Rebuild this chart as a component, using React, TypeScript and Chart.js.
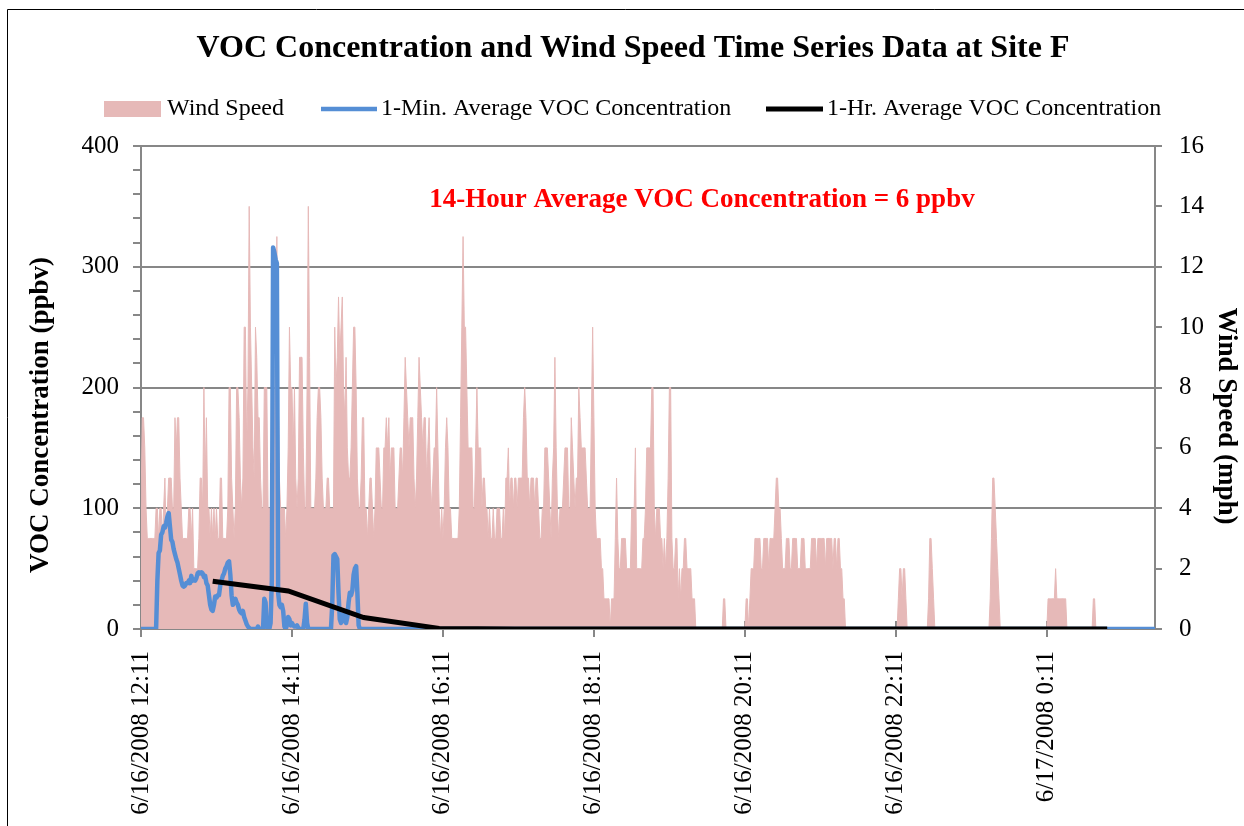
import React, { useEffect, useRef } from "react";
import { Chart, registerables } from "chart.js";

Chart.register(...registerables);

const SERIF = "'Liberation Serif', 'Times New Roman', serif";
const GRAY = "#878787";

const chartTitle = "VOC Concentration and Wind Speed Time Series Data at Site F";
const annotationText = "14-Hour Average VOC Concentration = 6 ppbv";
const leftAxisTitle = "VOC Concentration (ppbv)";
const rightAxisTitle = "Wind Speed (mph)";
const legendLabels = ["Wind Speed", "1-Min. Average VOC Concentration", "1-Hr. Average VOC Concentration"];

// minutes after 6/16/2008 12:11
const xMaxMinute = 806;
const xTickMinutes = [0, 120, 240, 360, 480, 600, 720];
const xTickLabels = [
  "6/16/2008 12:11",
  "6/16/2008 14:11",
  "6/16/2008 16:11",
  "6/16/2008 18:11",
  "6/16/2008 20:11",
  "6/16/2008 22:11",
  "6/17/2008 0:11",
];

const vocAxisTicks = [0, 20, 40, 60, 80, 100, 120, 140, 160, 180, 200, 220, 240, 260, 280, 300, 320, 340, 360, 380, 400];
const windAxisTicks = [0, 2, 4, 6, 8, 10, 12, 14, 16];

// Wind speed (mph), one value per minute starting 12:11
const windSpeedMph = [
  /*   0 */ 4, 7, 7, 6, 4, 3, 3, 3, 3, 3,
  /*  10 */ 3, 3, 4, 4, 3, 4, 4, 3, 4, 5,
  /*  20 */ 3, 4, 5, 5, 5, 4, 4, 7, 6, 7,
  /*  30 */ 7, 5, 4, 3, 3, 3, 3, 3, 4, 4,
  /*  40 */ 3, 4, 2, 2, 2, 2, 3, 5, 5, 4,
  /*  50 */ 8, 5, 7, 4, 4, 3, 4, 3, 4, 3,
  /*  60 */ 4, 3, 3, 5, 5, 3, 3, 3, 3, 4,
  /*  70 */ 8, 8, 5, 4, 3, 4, 8, 8, 7, 5,
  /*  80 */ 4, 5, 10, 10, 6, 8, 14, 10, 8, 6,
  /*  90 */ 5, 10, 9, 7, 7, 5, 4, 4, 8, 8,
  /* 100 */ 8, 4, 4, 4, 5, 5, 6, 10, 13, 8,
  /* 110 */ 5, 4, 4, 4, 4, 3, 4, 6, 10, 8,
  /* 120 */ 8, 6, 8, 5, 4, 5, 9, 9, 9, 6,
  /* 130 */ 4, 4, 8, 14, 9, 4, 4, 4, 4, 5,
  /* 140 */ 7, 8, 8, 7, 5, 4, 4, 4, 5, 5,
  /* 150 */ 4, 4, 4, 4, 10, 8, 9, 11, 9, 10,
  /* 160 */ 11, 8, 7, 9, 6, 5, 5, 6, 8, 10,
  /* 170 */ 10, 8, 5, 4, 4, 5, 7, 7, 4, 4,
  /* 180 */ 3, 4, 5, 5, 4, 3, 4, 6, 6, 6,
  /* 190 */ 5, 4, 4, 6, 6, 7, 6, 7, 5, 6,
  /* 200 */ 6, 6, 4, 4, 4, 5, 6, 6, 5, 7,
  /* 210 */ 9, 8, 7, 6, 7, 7, 7, 5, 4, 5,
  /* 220 */ 7, 9, 8, 7, 6, 7, 7, 5, 6, 7,
  /* 230 */ 5, 4, 5, 6, 6, 8, 6, 4, 3, 4,
  /* 240 */ 3, 4, 6, 7, 6, 4, 4, 3, 3, 3,
  /* 250 */ 3, 3, 3, 4, 7, 10, 13, 10, 10, 8,
  /* 260 */ 6, 6, 6, 6, 4, 4, 6, 8, 6, 6,
  /* 270 */ 6, 4, 5, 5, 4, 4, 3, 4, 3, 3,
  /* 280 */ 4, 3, 3, 4, 4, 4, 3, 3, 4, 3,
  /* 290 */ 5, 5, 6, 4, 5, 5, 4, 5, 5, 4,
  /* 300 */ 5, 5, 5, 5, 7, 8, 7, 5, 5, 4,
  /* 310 */ 5, 5, 5, 4, 5, 5, 4, 3, 3, 4,
  /* 320 */ 4, 6, 6, 6, 5, 4, 3, 5, 6, 9,
  /* 330 */ 6, 4, 3, 4, 4, 4, 5, 6, 6, 6,
  /* 340 */ 4, 4, 7, 6, 5, 4, 5, 5, 8, 7,
  /* 350 */ 6, 6, 6, 6, 5, 4, 4, 4, 7, 10,
  /* 360 */ 7, 4, 3, 3, 3, 3, 2, 2, 1, 1,
  /* 370 */ 1, 1, 1, 0, 1, 1, 1, 3, 5, 3,
  /* 380 */ 2, 2, 3, 3, 3, 3, 2, 2, 2, 2,
  /* 390 */ 4, 4, 4, 6, 2, 2, 2, 2, 2, 3,
  /* 400 */ 3, 4, 6, 6, 6, 6, 8, 8, 4, 3,
  /* 410 */ 4, 4, 4, 3, 3, 2, 3, 2, 3, 5,
  /* 420 */ 8, 8, 3, 2, 2, 3, 3, 1, 2, 1,
  /* 430 */ 2, 2, 3, 3, 2, 2, 2, 2, 1, 1,
  /* 440 */ 1, 0, 0, 0, 0, 0, 0, 0, 0, 0,
  /* 450 */ 0, 0, 0, 0, 0, 0, 0, 0, 0, 0,
  /* 460 */ 0, 0, 0, 1, 1, 0, 0, 0, 0, 0,
  /* 470 */ 0, 0, 0, 0, 0, 0, 0, 0, 0, 0,
  /* 480 */ 0, 1, 1, 0, 1, 2, 2, 2, 3, 3,
  /* 490 */ 3, 3, 3, 2, 2, 3, 3, 3, 3, 2,
  /* 500 */ 3, 3, 3, 3, 4, 5, 5, 4, 4, 3,
  /* 510 */ 2, 2, 2, 3, 3, 3, 2, 2, 3, 3,
  /* 520 */ 3, 3, 2, 2, 2, 3, 3, 3, 2, 2,
  /* 530 */ 2, 2, 2, 3, 3, 3, 3, 2, 3, 3,
  /* 540 */ 3, 3, 3, 3, 2, 3, 3, 3, 3, 3,
  /* 550 */ 2, 3, 3, 2, 3, 3, 2, 2, 1, 1,
  /* 560 */ 0, 0, 0, 0, 0, 0, 0, 0, 0, 0,
  /* 570 */ 0, 0, 0, 0, 0, 0, 0, 0, 0, 0,
  /* 580 */ 0, 0, 0, 0, 0, 0, 0, 0, 0, 0,
  /* 590 */ 0, 0, 0, 0, 0, 0, 0, 0, 0, 0,
  /* 600 */ 0, 0, 1, 2, 2, 1, 2, 2, 1, 0,
  /* 610 */ 0, 0, 0, 0, 0, 0, 0, 0, 0, 0,
  /* 620 */ 0, 0, 0, 0, 0, 0, 1, 3, 3, 2,
  /* 630 */ 1, 0, 0, 0, 0, 0, 0, 0, 0, 0,
  /* 640 */ 0, 0, 0, 0, 0, 0, 0, 0, 0, 0,
  /* 650 */ 0, 0, 0, 0, 0, 0, 0, 0, 0, 0,
  /* 660 */ 0, 0, 0, 0, 0, 0, 0, 0, 0, 0,
  /* 670 */ 0, 0, 0, 0, 0, 1, 3, 5, 5, 4,
  /* 680 */ 3, 2, 1, 0, 0, 0, 0, 0, 0, 0,
  /* 690 */ 0, 0, 0, 0, 0, 0, 0, 0, 0, 0,
  /* 700 */ 0, 0, 0, 0, 0, 0, 0, 0, 0, 0,
  /* 710 */ 0, 0, 0, 0, 0, 0, 0, 0, 0, 0,
  /* 720 */ 0, 1, 1, 1, 1, 1, 1, 2, 1, 1,
  /* 730 */ 1, 1, 1, 1, 1, 1, 0, 0, 0, 0,
  /* 740 */ 0, 0, 0, 0, 0, 0, 0, 0, 0, 0,
  /* 750 */ 0, 0, 0, 0, 0, 0, 0, 1, 1, 0,
  /* 760 */ 0, 0, 0, 0, 0, 0, 0, 0, 0, 0,
  /* 770 */ 0, 0, 0, 0, 0, 0, 0, 0, 0, 0,
  /* 780 */ 0, 0, 0, 0, 0, 0, 0, 0, 0, 0,
  /* 790 */ 0, 0, 0, 0, 0, 0, 0, 0, 0, 0,
  /* 800 */ 0, 0, 0, 0, 0, 0, 0,
];

// 1-minute average VOC (ppbv), one value per minute starting 12:11
const voc1MinPpbv = [
  /*   0 */ 0, 0, 0, 0, 0, 0, 0, 0, 0, 0,
  /*  10 */ 0, 0, 0, 40, 63, 65, 78, 80, 85, 84,
  /*  20 */ 88, 93, 96, 85, 74, 72, 66, 62, 58, 55,
  /*  30 */ 50, 45, 40, 36, 35, 36, 38, 38, 40, 38,
  /*  40 */ 44, 40, 41, 40, 42, 46, 47, 46, 47, 46,
  /*  50 */ 43, 44, 38, 36, 28, 20, 16, 15, 20, 27,
  /*  60 */ 26, 28, 28, 36, 40, 44, 46, 50, 52, 55,
  /*  70 */ 56, 45, 28, 20, 22, 25, 22, 20, 16, 14,
  /*  80 */ 13, 15, 10, 7, 4, 2, 1, 0, 0, 0,
  /*  90 */ 0, 0, 0, 2, 0, 0, 0, 0, 25, 22,
  /* 100 */ 2, 0, 0, 5, 40, 316, 312, 306, 303, 30,
  /* 110 */ 20, 18, 20, 15, 2, 0, 3, 10, 8, 3,
  /* 120 */ 5, 3, 2, 2, 3, 1, 0, 0, 0, 0,
  /* 130 */ 8, 21, 5, 0, 0, 0, 0, 0, 0, 0,
  /* 140 */ 0, 0, 0, 0, 0, 0, 0, 0, 0, 0,
  /* 150 */ 0, 0, 20, 61, 62, 60, 58, 30, 8, 5,
  /* 160 */ 8, 12, 7, 5, 10, 22, 30, 28, 32, 45,
  /* 170 */ 50, 52, 30, 3, 0, 0, 0, 0, 0, 0,
  /* 180 */ 0, 0, 0, 0, 0, 0, 0, 0, 0, 0, 0, 0, 0, 0, 0, 0, 0, 0, 0, 0,
  /* 200 */ 0, 0, 0, 0, 0, 0, 0, 0, 0, 0, 0, 0, 0, 0, 0, 0, 0, 0, 0, 0,
  /* 220 */ 0, 0, 0, 0, 0, 0, 0, 0, 0, 0, 0, 0, 0, 0, 0, 0, 0, 0, 0, 0,
  /* 240 */ 0, 0, 0, 0, 0, 0, 0, 0, 0, 0, 0, 0, 0, 0, 0, 0, 0, 0, 0, 0,
  /* 260 */ 0, 0, 0, 0, 0, 0, 0, 0, 0, 0, 0, 0, 0, 0, 0, 0, 0, 0, 0, 0,
  /* 280 */ 0, 0, 0, 0, 0, 0, 0, 0, 0, 0, 0, 0, 0, 0, 0, 0, 0, 0, 0, 0,
  /* 300 */ 0, 0, 0, 0, 0, 0, 0, 0, 0, 0, 0, 0, 0, 0, 0, 0, 0, 0, 0, 0,
  /* 320 */ 0, 0, 0, 0, 0, 0, 0, 0, 0, 0, 0, 0, 0, 0, 0, 0, 0, 0, 0, 0,
  /* 340 */ 0, 0, 0, 0, 0, 0, 0, 0, 0, 0, 0, 0, 0, 0, 0, 0, 0, 0, 0, 0,
  /* 360 */ 0, 0, 0, 0, 0, 0, 0, 0, 0, 0, 0, 0, 0, 0, 0, 0, 0, 0, 0, 0,
  /* 380 */ 0, 0, 0, 0, 0, 0, 0, 0, 0, 0, 0, 0, 0, 0, 0, 0, 0, 0, 0, 0,
  /* 400 */ 0, 0, 0, 0, 0, 0, 0, 0, 0, 0, 0, 0, 0, 0, 0, 0, 0, 0, 0, 0,
  /* 420 */ 0, 0, 0, 0, 0, 0, 0, 0, 0, 0, 0, 0, 0, 0, 0, 0, 0, 0, 0, 0,
  /* 440 */ 0, 0, 0, 0, 0, 0, 0, 0, 0, 0, 0, 0, 0, 0, 0, 0, 0, 0, 0, 0,
  /* 460 */ 0, 0, 0, 0, 0, 0, 0, 0, 0, 0, 0, 0, 0, 0, 0, 0, 0, 0, 0, 0,
  /* 480 */ 0, 0, 0, 0, 0, 0, 0, 0, 0, 0, 0, 0, 0, 0, 0, 0, 0, 0, 0, 0,
  /* 500 */ 0, 0, 0, 0, 0, 0, 0, 0, 0, 0, 0, 0, 0, 0, 0, 0, 0, 0, 0, 0,
  /* 520 */ 0, 0, 0, 0, 0, 0, 0, 0, 0, 0, 0, 0, 0, 0, 0, 0, 0, 0, 0, 0,
  /* 540 */ 0, 0, 0, 0, 0, 0, 0, 0, 0, 0, 0, 0, 0, 0, 0, 0, 0, 0, 0, 0,
  /* 560 */ 0, 0, 0, 0, 0, 0, 0, 0, 0, 0, 0, 0, 0, 0, 0, 0, 0, 0, 0, 0,
  /* 580 */ 0, 0, 0, 0, 0, 0, 0, 0, 0, 0, 0, 0, 0, 0, 0, 0, 0, 0, 0, 0,
  /* 600 */ 0, 0, 0, 0, 0, 0, 0, 0, 0, 0, 0, 0, 0, 0, 0, 0, 0, 0, 0, 0,
  /* 620 */ 0, 0, 0, 0, 0, 0, 0, 0, 0, 0, 0, 0, 0, 0, 0, 0, 0, 0, 0, 0,
  /* 640 */ 0, 0, 0, 0, 0, 0, 0, 0, 0, 0, 0, 0, 0, 0, 0, 0, 0, 0, 0, 0,
  /* 660 */ 0, 0, 0, 0, 0, 0, 0, 0, 0, 0, 0, 0, 0, 0, 0, 0, 0, 0, 0, 0,
  /* 680 */ 0, 0, 0, 0, 0, 0, 0, 0, 0, 0, 0, 0, 0, 0, 0, 0, 0, 0, 0, 0,
  /* 700 */ 0, 0, 0, 0, 0, 0, 0, 0, 0, 0, 0, 0, 0, 0, 0, 0, 0, 0, 0, 0,
  /* 720 */ 0, 0, 0, 0, 0, 0, 0, 0, 0, 0, 0, 0, 0, 0, 0, 0, 0, 0, 0, 0,
  /* 740 */ 0, 0, 0, 0, 0, 0, 0, 0, 0, 0, 0, 0, 0, 0, 0, 0, 0, 0, 0, 0,
  /* 760 */ 0, 0, 0, 0, 0, 0, 0, 0, 0, 0, 0, 0, 0, 0, 0, 0, 0, 0, 0, 0,
  /* 780 */ 0, 0, 0, 0, 0, 0, 0, 0, 0, 0, 0, 0, 0, 0, 0, 0, 0, 0, 0, 0,
  /* 800 */ 0, 0, 0, 0, 0, 0, 0,
];

// 1-hour average VOC (ppbv)
const voc1HrMinutes = [57, 117, 177, 237, 297, 357, 417, 477, 537, 597, 657, 717, 768];
const voc1HrPpbv = [39.5, 31.5, 9.5, 0.5, 0, 0, 0, 0, 0, 0, 0, 0, 0];

const innerTickPlugin = {
  id: "innerTicks",
  beforeDatasetsDraw(chart: any) {
    const ctx = chart.ctx as CanvasRenderingContext2D;
    const xs = chart.scales.x;
    const bottom = chart.chartArea.bottom;
    ctx.save();
    ctx.strokeStyle = GRAY;
    ctx.lineWidth = 2;
    ctx.beginPath();
    for (const m of xTickMinutes) {
      const px = Math.round(xs.getPixelForValue(m));
      ctx.moveTo(px, bottom - 8);
      ctx.lineTo(px, bottom);
    }
    ctx.stroke();
    ctx.restore();
  },
};

const decorPlugin = {
  id: "decor",
  afterDraw(chart: any) {
    const ctx = chart.ctx as CanvasRenderingContext2D;
    ctx.save();
    // outer border (top & left visible)
    ctx.strokeStyle = "#000";
    ctx.lineWidth = 1;
    ctx.beginPath();
    ctx.moveTo(7.5, 826);
    ctx.lineTo(7.5, 9.5);
    ctx.lineTo(1244, 9.5);
    ctx.stroke();

    // title
    ctx.fillStyle = "#000";
    ctx.textAlign = "center";
    ctx.textBaseline = "middle";
    ctx.font = `bold 32px ${SERIF}`;
    ctx.fillText(chartTitle, 633, 49);

    // legend
    const ly = 109;
    ctx.font = `24px ${SERIF}`;
    ctx.textAlign = "left";
    ctx.fillStyle = "#E6B9B8";
    ctx.fillRect(104, 101, 57, 16);
    ctx.fillStyle = "#000";
    ctx.fillText(legendLabels[0], 167, ly);
    ctx.strokeStyle = "#558ED5";
    ctx.lineWidth = 4.5;
    ctx.beginPath();
    ctx.moveTo(321, ly);
    ctx.lineTo(377, ly);
    ctx.stroke();
    ctx.fillText(legendLabels[1], 381, ly);
    ctx.strokeStyle = "#000";
    ctx.lineWidth = 5;
    ctx.beginPath();
    ctx.moveTo(766, ly);
    ctx.lineTo(823, ly);
    ctx.stroke();
    ctx.fillText(legendLabels[2], 827, ly);

    // annotation
    ctx.textAlign = "center";
    ctx.fillStyle = "#FF0000";
    ctx.font = `bold 27px ${SERIF}`;
    ctx.fillText(annotationText, 702, 200);

    // axis titles
    ctx.fillStyle = "#000";
    ctx.font = `bold 27px ${SERIF}`;
    ctx.save();
    ctx.translate(41, 415);
    ctx.rotate(-Math.PI / 2);
    ctx.fillText(leftAxisTitle, 0, 0);
    ctx.restore();
    ctx.save();
    ctx.translate(1226, 416);
    ctx.rotate(Math.PI / 2);
    ctx.fillText(rightAxisTitle, 0, 0);
    ctx.restore();

    ctx.restore();
  },
};

export default function App() {
  const canvasRef = useRef<HTMLCanvasElement | null>(null);

  useEffect(() => {
    if (!canvasRef.current) return;
    Chart.defaults.font.family = SERIF;
    Chart.defaults.color = "#000";

    const chart = new Chart(canvasRef.current, {
      type: "line",
      data: {
        datasets: [
          {
            label: legendLabels[2],
            data: voc1HrMinutes.map((m, i) => ({ x: m, y: voc1HrPpbv[i] })),
            yAxisID: "y",
            borderColor: "#000000",
            borderWidth: 5,
            pointRadius: 0,
            fill: false,
            order: 1,
          },
          {
            label: legendLabels[1],
            data: voc1MinPpbv.map((v, i) => ({ x: i, y: v })),
            yAxisID: "y",
            borderColor: "#558ED5",
            borderWidth: 4.5,
            borderJoinStyle: "round",
            pointRadius: 0,
            fill: false,
            order: 2,
          },
          {
            label: legendLabels[0],
            data: windSpeedMph.map((v, i) => ({ x: i, y: v })),
            yAxisID: "y2",
            borderColor: "#E6B9B8",
            borderWidth: 1,
            backgroundColor: "#E6B9B8",
            pointRadius: 0,
            fill: "origin",
            order: 3,
          },
        ],
      },
      options: {
        animation: false,
        responsive: false,
        maintainAspectRatio: false,
        layout: { padding: { top: 146, left: 0, right: 0, bottom: 0 } },
        elements: { line: { tension: 0 }, point: { radius: 0 } },
        plugins: {
          legend: { display: false },
          title: { display: false },
          tooltip: { enabled: false },
        },
        scales: {
          x: {
            type: "linear",
            min: 0,
            max: xMaxMinute,
            afterBuildTicks: (s: any) => {
              s.ticks = xTickMinutes.map((v) => ({ value: v }));
            },
            afterFit: (s: any) => {
              s.height = 197;
            },
            ticks: {
              autoSkip: false,
              minRotation: 90,
              maxRotation: 90,
              padding: 14,
              color: "#000",
              font: { size: 25, family: SERIF },
              callback: (v: any) => {
                const i = xTickMinutes.indexOf(Number(v));
                return i >= 0 ? xTickLabels[i] : "";
              },
            },
            grid: { drawOnChartArea: false, drawTicks: true, tickLength: 8, color: GRAY, lineWidth: 2 },
            border: { color: GRAY, width: 2 },
          },
          y: {
            position: "left",
            min: 0,
            max: 400,
            afterBuildTicks: (s: any) => {
              s.ticks = vocAxisTicks.map((v) => ({ value: v }));
            },
            afterFit: (s: any) => {
              s.width = 141;
            },
            ticks: {
              autoSkip: false,
              padding: 14,
              color: "#000",
              font: { size: 25, family: SERIF },
              callback: (v: any) => (Number(v) % 100 === 0 ? String(v) : ""),
            },
            grid: {
              color: (c: any) => (c.tick && c.tick.value % 100 === 0 ? GRAY : "rgba(0,0,0,0)"),
              tickColor: GRAY,
              lineWidth: 2,
              tickLength: 8,
            },
            border: { color: GRAY, width: 2 },
          },
          y2: {
            position: "right",
            min: 0,
            max: 16,
            afterBuildTicks: (s: any) => {
              s.ticks = windAxisTicks.map((v) => ({ value: v }));
            },
            afterFit: (s: any) => {
              s.width = 89;
            },
            ticks: {
              autoSkip: false,
              padding: 17,
              color: "#000",
              font: { size: 25, family: SERIF },
              callback: (v: any) => String(v),
            },
            grid: { drawOnChartArea: false, color: GRAY, lineWidth: 2, tickLength: 7 },
            border: { color: GRAY, width: 2 },
          },
        },
      },
      plugins: [innerTickPlugin, decorPlugin],
    } as any);

    return () => chart.destroy();
  }, []);

  return (
    <div style={{ position: "absolute", left: 0, top: 0, width: 1244, height: 826, background: "#fff" }}>
      <canvas ref={canvasRef} width={1244} height={826} style={{ display: "block", width: 1244, height: 826 }} />
    </div>
  );
}
